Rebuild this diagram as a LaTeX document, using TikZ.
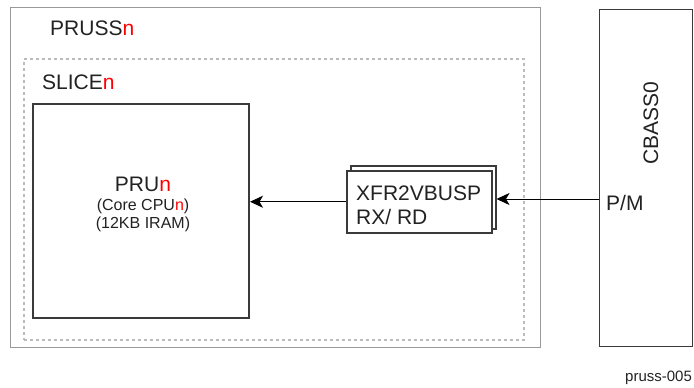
\documentclass[tikz,border=0pt]{standalone}
\usepackage{fontspec}
\setmainfont{Liberation Sans}
\usetikzlibrary{arrows.meta}
\definecolor{txt}{HTML}{222222}
\definecolor{boxline}{HTML}{3A3A3A}
\definecolor{outerline}{HTML}{999999}
\definecolor{dotline}{HTML}{BBBBBB}
\begin{document}
\begin{tikzpicture}[x=1pt,y=-1pt,
  box/.style={draw, inner sep=0pt, anchor=north west},
  lbl/.style={inner sep=0pt, anchor=base west, text=txt, font=\fontsize{21}{24}\selectfont},
  sub/.style={inner sep=0pt, anchor=base, text=txt, font=\fontsize{16}{18}\selectfont},
  arr/.style={draw=black, line width=1pt, -{Stealth[length=13pt,width=12pt,inset=3.5pt]}}
]
\useasboundingbox (0,0) rectangle (694,388);
% outer PRUSS box
\node[box, draw=outerline, line width=1.2pt, minimum width=530pt, minimum height=340pt] (pruss) at (10,7) {};
% SLICE dotted box
\node[box, draw=dotline, line width=2pt, dash pattern=on 3pt off 3pt, minimum width=500pt, minimum height=281pt] (slice) at (23,58) {};
% PRU box
\node[box, draw=boxline, line width=2pt, minimum width=216pt, minimum height=214pt] (pru) at (32,103) {};
% XFR stacked boxes
\node[box, draw=boxline, fill=white, line width=1.5pt, minimum width=145pt, minimum height=63pt] (xfrback) at (350,165) {};
\node[box, draw=boxline, fill=white, line width=1.5pt, minimum width=145pt, minimum height=62pt] (xfr) at (346,170) {};
% CBASS box
\node[box, draw=boxline, line width=1.3pt, minimum width=93pt, minimum height=337pt] (cbass) at (599,9) {};

% labels
\node[lbl] (lpruss) at (50,35.3) {PRUSS\textcolor{red}{n}};
\node[lbl] (lslice) at (42,89.3) {SLICE\textcolor{red}{n}};
\node[lbl, anchor=base] (lpru) at (143,191.7) {PRU\textcolor{red}{n}};
\node[sub] (lcore) at (143,210) {(Core CPU\textcolor{red}{n})};
\node[sub] (liram) at (143,228) {(12KB IRAM)};
\node[lbl] (lxfr1) at (356,200) {XFR2VBUSP};
\node[lbl] (lxfr2) at (356,224) {RX/ RD};
\node[lbl] (lpm) at (606,210) {P/M};
\node[lbl, rotate=90] (lcbass) at (658,165) {CBASS0};
\node[inner sep=0pt, anchor=base west, text=txt, font=\fontsize{15}{17}\selectfont] (lfig) at (625,381.5) {pruss-005};

% connectors
\draw[arr] (xfr.west) -- (pru.east |- xfr.west);
\draw[arr] (cbass.west |- 0,199) -- (xfrback.east |- 0,199);
\end{tikzpicture}
\end{document}
